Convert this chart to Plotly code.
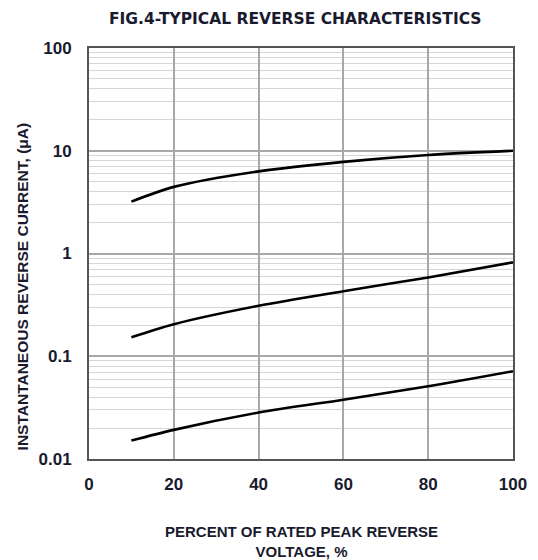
import plotly.graph_objects as go

x_pct = [10, 20, 40, 60, 80, 100]
curve_high = [3.2, 4.45, 6.3, 7.8, 9.1, 10.0]
curve_mid = [0.153, 0.205, 0.31, 0.43, 0.585, 0.82]
curve_low = [0.0151, 0.0192, 0.0283, 0.0378, 0.051, 0.0715]

y_tickvals = [0.01, 0.1, 1, 10, 100]
y_ticktext = ["0.01", "0.1", "1", "10", "100"]
x_tickvals = [0, 20, 40, 60, 80, 100]

FONT = "Liberation Sans, Arial, sans-serif"
WIDE = "DejaVu Sans, sans-serif"
TXT = "#1a1a2e"

fig = go.Figure()
for ys in (curve_high, curve_mid, curve_low):
    fig.add_trace(go.Scatter(x=x_pct, y=ys, mode="lines",
                             line=dict(color="black", width=2.6, shape="spline", smoothing=0.8),
                             showlegend=False, hoverinfo="skip"))

# page body has an 8px margin, so figure coordinates are offset by 8px
fig.update_layout(
    width=530, height=552,
    margin=dict(l=81, r=25, t=40, b=101),
    paper_bgcolor="white", plot_bgcolor="white",
    font=dict(family=FONT, color=TXT),
    annotations=[
        dict(text="FIG.4-TYPICAL REVERSE CHARACTERISTICS", x=0.5, y=1, xref="paper", yref="paper",
             xshift=-6, yshift=29, showarrow=False, yanchor="middle",
             font=dict(size=15.5, family=WIDE, color=TXT, weight="bold")),
        dict(text="INSTANTANEOUS REVERSE CURRENT, (μA)", x=0, xref="paper", xshift=-67,
             y=0.42, yref="paper", textangle=-90, showarrow=False,
             xanchor="center", yanchor="middle",
             font=dict(size=15.5, family=FONT, color=TXT, weight="bold")),
        dict(text="PERCENT OF RATED PEAK REVERSE<br>VOLTAGE, %", x=0.5, xref="paper",
             y=0, yref="paper", yshift=-82, showarrow=False, yanchor="middle",
             font=dict(size=15, family=FONT, color=TXT, weight="bold")),
    ],
)

fig.update_xaxes(range=[0, 100], tickvals=x_tickvals, ticks="", showgrid=True,
                 gridcolor="#a8a8a8", gridwidth=1.5,
                 showline=True, linecolor="#555555", linewidth=2, mirror=True,
                 tickfont=dict(size=17, family=FONT, color=TXT, weight="bold"), ticklabelstandoff=9,
                 zeroline=False)
fig.update_yaxes(type="log", range=[-2, 2], tickvals=y_tickvals, ticktext=y_ticktext,
                 ticks="", showgrid=True, gridcolor="#a8a8a8", gridwidth=1.5,
                 minor=dict(dtick="D1", showgrid=True, gridcolor="#d6d6d6", gridwidth=1.3, ticks=""),
                 showline=True, linecolor="#555555", linewidth=2, mirror=True,
                 tickfont=dict(size=17, family=FONT, color=TXT, weight="bold"), ticklabelstandoff=12,
                 zeroline=False)

fig.write_html("out.html")
